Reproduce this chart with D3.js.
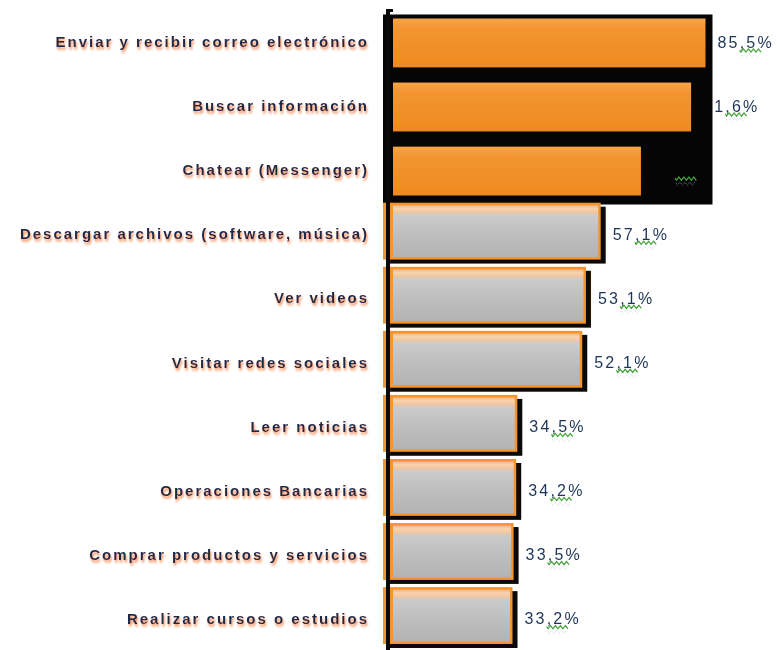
<!DOCTYPE html>
<html>
<head>
<meta charset="utf-8">
<script src="https://cdn.jsdelivr.net/npm/d3@7"></script>
<style>
  body { margin: 0; background: #fff; }
  svg { display: block; }
</style>
</head>
<body>
<svg id="chart" width="777" height="650"></svg>
<script>
const categories = [
    "Enviar y recibir correo electrónico",
    "Buscar información",
    "Chatear (Messenger)",
    "Descargar archivos (software, música)",
    "Ver videos",
    "Visitar redes sociales",
    "Leer noticias",
    "Operaciones Bancarias",
    "Comprar productos y servicios",
    "Realizar cursos o estudios"
];
const values = [85.5, 81.6, 68.0, 57.1, 53.1, 52.1, 34.5, 34.2, 33.5, 33.2];
// the first three rows are highlighted (orange on black)
const highlighted = [true, true, true, false, false, false, false, false, false, false];

const data = categories.map((c, i) => ({ name: c, value: values[i], hi: highlighted[i] }));

const svg = d3.select("#chart");
const width = 777, height = 650;

const x = d3.scaleLinear().domain([0, 100]).range([390, 759]);
const y = d3.scaleBand()
    .domain(categories)
    .range([10.5, 648])
    .paddingInner(0.05)
    .paddingOuter(0);
const bw = y.bandwidth();

const defs = svg.append("defs");

const grayGrad = defs.append("linearGradient")
    .attr("id", "grayGrad")
    .attr("x1", 0).attr("x2", 0).attr("y1", 0).attr("y2", 1);
[
    { offset: "0%", color: "#f6b27a" },
    { offset: "6%", color: "#f9d2ae" },
    { offset: "13%", color: "#f3c6a0" },
    { offset: "19%", color: "#cbcbcb" },
    { offset: "60%", color: "#bdbdbd" },
    { offset: "100%", color: "#b3b3b3" }
].forEach(s => grayGrad.append("stop").attr("offset", s.offset).attr("stop-color", s.color));

const orangeGrad = defs.append("linearGradient")
    .attr("id", "orangeGrad")
    .attr("x1", 0).attr("x2", 0).attr("y1", 0).attr("y2", 1);
[
    { offset: "0%", color: "#f6a447" },
    { offset: "20%", color: "#f39530" },
    { offset: "100%", color: "#ef8a1f" }
].forEach(s => orangeGrad.append("stop").attr("offset", s.offset).attr("stop-color", s.color));

const glow = defs.append("filter")
    .attr("id", "glow")
    .attr("x", "-5%").attr("y", "-30%").attr("width", "110%").attr("height", "170%");
glow.append("feGaussianBlur").attr("in", "SourceGraphic").attr("stdDeviation", 0.3).attr("result", "b");
glow.append("feDropShadow")
    .attr("in", "b")
    .attr("dx", 1).attr("dy", 2.5)
    .attr("stdDeviation", 1.3)
    .attr("flood-color", "#f07a3a")
    .attr("flood-opacity", 0.9);

const soft = defs.append("filter").attr("id", "soft");
soft.append("feGaussianBlur").attr("stdDeviation", 0.4);

// category labels
svg.append("g")
    .selectAll("text")
    .data(data)
    .join("text")
    .attr("x", 369)
    .attr("y", d => y(d.name) + bw / 2 + 1)
    .attr("dy", "0.35em")
    .attr("text-anchor", "end")
    .attr("font-family", "Liberation Sans, Arial, sans-serif")
    .attr("font-size", 15)
    .attr("font-weight", "bold")
    .attr("letter-spacing", 2)
    .attr("fill", "#1b2c47")
    .attr("filter", "url(#glow)")
    .text(d => d.name);

// value labels (drawn first so the black highlight can cover them)
const fmt = v => d3.format(".1f")(v).replace(".", ",") + "%";
const valueText = svg.append("g").selectAll("text")
    .data(data)
    .join("text")
    .attr("x", d => x(d.value) + 12)
    .attr("y", d => y(d.name) + bw / 2 + 1)
    .attr("dy", "0.35em")
    .attr("font-family", "Liberation Sans, Arial, sans-serif")
    .attr("font-size", 16)
    .attr("letter-spacing", 2.2)
    .attr("fill", "#1d3656")
    .attr("filter", "url(#soft)")
    .text(d => fmt(d.value));

// black highlight behind the top rows
const hiRows = data.filter(d => d.hi);
svg.append("rect")
    .attr("x", 383)
    .attr("y", y(hiRows[0].name) + 4)
    .attr("width", x(hiRows[0].value) + 7 - 383)
    .attr("height", y(hiRows[hiRows.length - 1].name) + bw + 5 - (y(hiRows[0].name) + 4))
    .attr("fill", "#050505");

// highlighted orange bars
svg.append("g")
    .selectAll("rect")
    .data(hiRows)
    .join("rect")
    .attr("x", 393)
    .attr("y", d => y(d.name) + 8)
    .attr("width", d => x(d.value) - 393)
    .attr("height", bw - 12)
    .attr("fill", "url(#orangeGrad)");

// regular gray bars with orange rim and black shadow
const grayRows = data.filter(d => !d.hi);
const gb = svg.append("g");
gb.selectAll("rect.shadow")
    .data(grayRows)
    .join("rect")
    .attr("class", "shadow")
    .attr("x", 388)
    .attr("y", d => y(d.name) + 4)
    .attr("width", d => x(d.value) + 5 - 388)
    .attr("height", bw - 4)
    .attr("fill", "#0a0a0a");
gb.selectAll("rect.rim")
    .data(grayRows)
    .join("rect")
    .attr("class", "rim")
    .attr("x", 383)
    .attr("y", d => y(d.name))
    .attr("width", d => x(d.value) - 383)
    .attr("height", bw - 4)
    .attr("fill", "#f2952f");
gb.selectAll("rect.fill")
    .data(grayRows)
    .join("rect")
    .attr("class", "fill")
    .attr("x", 393)
    .attr("y", d => y(d.name) + 2.5)
    .attr("width", d => x(d.value) - 395.5)
    .attr("height", bw - 9)
    .attr("fill", "url(#grayGrad)");

// axis line
const axisX = 388;
svg.append("rect")
    .attr("x", axisX - 2)
    .attr("y", 10)
    .attr("width", 4)
    .attr("height", height - 10)
    .attr("fill", "#0a0a0a");
svg.append("rect")
    .attr("x", axisX - 2)
    .attr("y", 9)
    .attr("width", 7)
    .attr("height", 3)
    .attr("fill", "#0a0a0a");

// spell-check squiggles under the decimal part of each value
const squig = (x0, y0, w) => {
    let p = `M${x0},${y0}`;
    for (let i = 0; i < w; i += 2.5) {
        p += ` L${x0 + i + 1.25},${y0 + (Math.round(i / 2.5) % 2 === 0 ? 2.2 : -1)}`;
    }
    return p;
};
valueText.each(function (d) {
    const str = fmt(d.value);
    const comma = str.indexOf(",");
    const start = this.getStartPositionOfChar(comma);
    const end = this.getEndPositionOfChar(comma + 1);
    const yy = y(d.name) + bw / 2 + 9;
    svg.append("path")
        .attr("d", squig(start.x, yy, end.x - start.x + 3))
        .attr("fill", "none")
        .attr("stroke", "#43a23a")
        .attr("stroke-width", 1.2);
    svg.append("path")
        .attr("d", squig(start.x + 1, yy + 5, end.x - start.x))
        .attr("fill", "none")
        .attr("stroke", "#a9cbec")
        .attr("stroke-width", 1)
        .attr("stroke-dasharray", "1,1")
        .attr("opacity", 0.6);
});
</script>
</body>
</html>
